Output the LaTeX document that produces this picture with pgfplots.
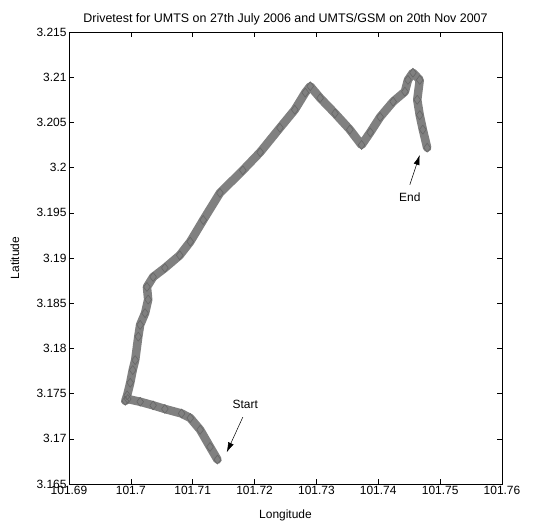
\documentclass[border=0pt]{standalone}
\usepackage{pgfplots}
\pgfplotsset{compat=1.18}
\usepackage{fontspec}
\setmainfont{Liberation Sans}
\usetikzlibrary{arrows.meta}
\begin{document}
\begin{tikzpicture}
\begin{axis}[
  scale only axis,
  width=433bp, height=452bp,
  xmin=101.69, xmax=101.76, ymin=3.165, ymax=3.215,
  xtick={101.69,101.70,...,101.76},
  ytick={3.165,3.170,...,3.215},
  scaled ticks=false,
  xticklabel style={/pgf/number format/fixed,/pgf/number format/precision=3, yshift=1bp},
  yticklabel style={/pgf/number format/fixed,/pgf/number format/precision=3, xshift=1bp},
  /pgf/number format/assume math mode=true,
  tick align=inside, tick pos=both,
  major tick length=5bp,
  tick style={black, line width=0.6pt},
  axis line style={black, line width=0.6pt},
  ticklabel style={font=\fontsize{12}{13}\selectfont},
  label style={font=\fontsize{12}{13}\selectfont},
  title style={font=\fontsize{12.5}{13}\selectfont, yshift=-3bp},
  title={Drivetest for UMTS on 27th July 2006 and UMTS/GSM on 20th Nov 2007},
  xlabel={Longitude}, ylabel={Latitude},
  xlabel style={at={(axis description cs:0.5,-0.07)}, anchor=center},
  ylabel style={at={(axis description cs:-0.125,0.5)}, anchor=center},
]
\addplot[color=black!50, line width=8.5bp, line join=round, line cap=round,
  mark=diamond, mark size=4.5bp, mark options={draw=black!60, line width=0.6pt, fill=black!45}]
coordinates {
(101.7140,3.1677)(101.7128,3.1691)(101.7112,3.1710)(101.7096,3.1723)
(101.7082,3.1728)(101.7055,3.1733)(101.7036,3.1737)(101.7015,3.1741)
(101.6995,3.1744)(101.6991,3.1742)(101.6994,3.1748)(101.6999,3.1762)
(101.7003,3.1776)(101.7007,3.1787)(101.7012,3.1813)(101.7015,3.1826)
(101.7023,3.1839)(101.7028,3.1854)(101.7026,3.1868)(101.7036,3.1879)
(101.7055,3.1889)(101.7079,3.1903)(101.7096,3.1918)(101.7117,3.1942)
(101.7144,3.1972)(101.7181,3.1997)(101.7209,3.2017)(101.7241,3.2044)
(101.7265,3.2064)(101.7282,3.2083)(101.7290,3.2090)(101.7306,3.2077)
(101.7330,3.2060)(101.7354,3.2042)(101.7373,3.2025)(101.7387,3.2039)
(101.7403,3.2056)(101.7424,3.2073)(101.7443,3.2084)(101.7448,3.2097)
(101.7456,3.2105)(101.7467,3.2097)(101.7463,3.2075)(101.7467,3.2058)
(101.7472,3.2042)(101.7479,3.2022)
};
\node[font=\fontsize{12}{13}\selectfont] at (axis cs:101.7185,3.1738) {Start};
\draw[-{Latex[length=10bp,width=6bp]}, line width=0.5pt] (axis cs:101.7181,3.1724) -- (axis cs:101.7155,3.1685);
\node[font=\fontsize{12}{13}\selectfont] at (axis cs:101.7451,3.1967) {End};
\draw[-{Latex[length=10bp,width=6bp]}, line width=0.5pt] (axis cs:101.7451,3.1981) -- (axis cs:101.7467,3.2014);
\end{axis}
\pgfresetboundingbox
\path[use as bounding box] ([xshift=-69bp,yshift=-38bp]current axis.south west) rectangle ([xshift=34bp,yshift=32bp]current axis.north east);
\end{tikzpicture}
\end{document}
